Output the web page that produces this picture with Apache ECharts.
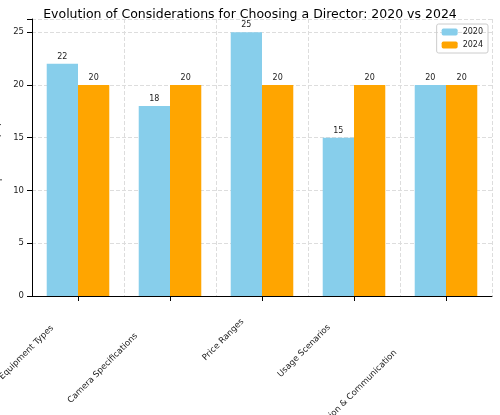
<!DOCTYPE html>
<html><head><meta charset="utf-8">
<script src="https://cdn.jsdelivr.net/npm/echarts@6/dist/echarts.min.js"></script>
<style>html,body{margin:0;padding:0;background:#fff}#c{width:500px;height:415px}</style>
</head><body><div id="c"></div>
<script>
const categories = ["Equipment Types","Camera Specifications","Price Ranges","Usage Scenarios","Creative Vision & Communication"];
const values2020 = [22,18,25,15,20];
const values2024 = [20,20,20,20,20];
const yTicks = [0,5,10,15,20,25];
const chart = echarts.init(document.getElementById('c'));
const ctx = document.createElement('canvas').getContext('2d');
ctx.font = '8.5px DejaVu Sans';
const catItems = categories.map(c => {
  const L = ctx.measureText(c).width;
  return {value:c, textStyle:{padding:[L/2, L/2, 0, 0]}};
});
const lbl = {show:true, position:'top', fontSize:8, color:'#222', fontFamily:'DejaVu Sans', distance:3};
chart.setOption({
  animation:false,
  title:{text:'Evolution of Considerations for Choosing a Director: 2020 vs 2024', left:'center', top:3,
    textStyle:{fontSize:12.5, fontWeight:'normal', fontFamily:'DejaVu Sans', color:'#000'}},
  legend:{top:24, right:12, orient:'vertical', itemWidth:16, itemHeight:7, itemGap:5,
    textStyle:{fontSize:8, fontFamily:'DejaVu Sans', color:'#222'},
    borderColor:'#ccc', borderWidth:1, borderRadius:2, padding:[4,5]},
  grid:{left:32, right:8, top:19, bottom:119, outerBoundsMode:'none', containLabel:false},
  xAxis:{type:'category', data:catItems,
    axisLine:{lineStyle:{color:'#000'}}, axisTick:{show:true, alignWithLabel:true},
    axisLabel:{rotate:45, align:'center', verticalAlign:'middle', fontSize:8.5, fontFamily:'DejaVu Sans', color:'#222', interval:0, margin:5},
    splitLine:{show:true, lineStyle:{type:'dashed', color:'#ddd'}}},
  yAxis:{type:'value', min:0, max:26.25, interval:5,
    name:'Importance (%)', nameLocation:'middle', nameGap:20,
    nameTextStyle:{fontSize:9, fontFamily:'DejaVu Sans', color:'#000'},
    axisLine:{show:true, lineStyle:{color:'#000'}}, axisTick:{show:true},
    axisLabel:{fontSize:8.5, fontFamily:'DejaVu Sans', color:'#222',
      formatter:v=>yTicks.includes(v)?String(v):''},
    splitLine:{lineStyle:{type:'dashed', color:'#ddd'}}},
  series:[
    {name:'2020', type:'bar', data:values2020, itemStyle:{color:'#87CEEB'}, barGap:'0%', barCategoryGap:'32%', label:lbl},
    {name:'2024', type:'bar', data:values2024, itemStyle:{color:'#FFA500'}, label:lbl}
  ]
});
</script></body></html>
